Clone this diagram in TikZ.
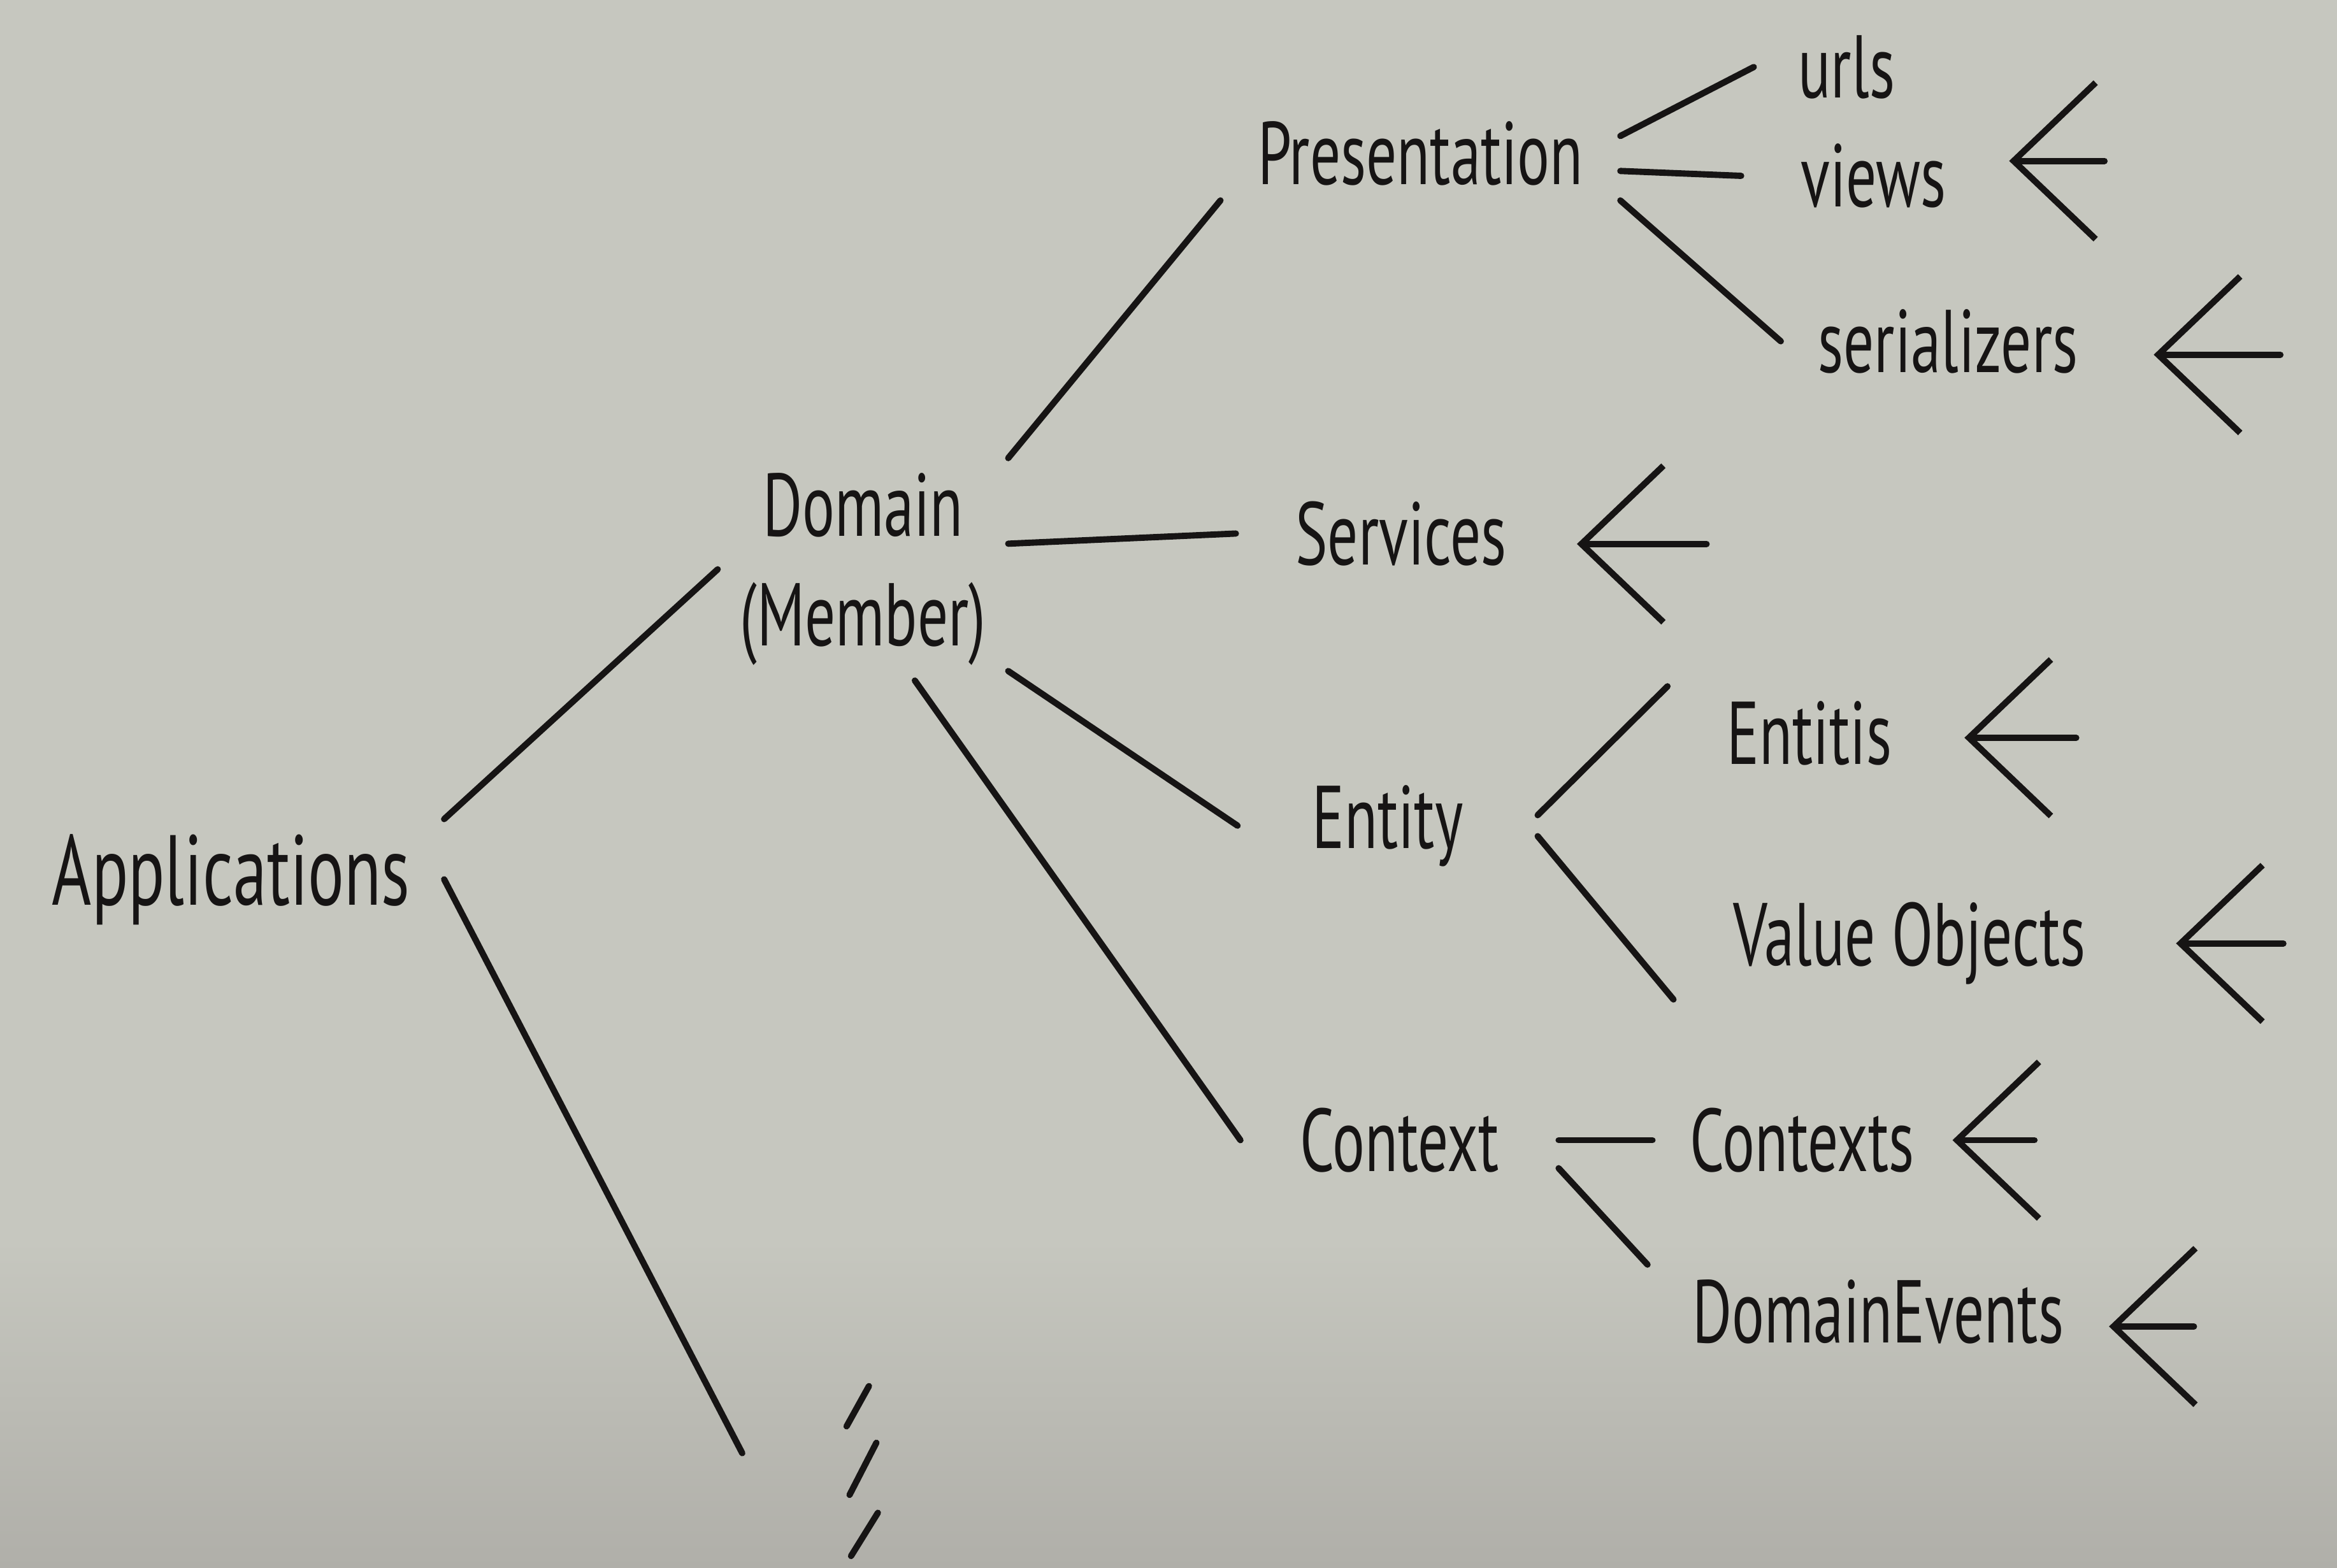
\documentclass[tikz,border=0pt]{standalone}
\usepackage{fontspec}
\setmainfont{PT Sans}
\newfontfamily\hand{PT Sans}[FakeStretch=0.68]
\usepackage{tikz}
\usetikzlibrary{arrows.meta,calc}
\definecolor{board}{RGB}{198,199,191}
\definecolor{boardlow}{RGB}{176,175,169}
\definecolor{marker}{RGB}{22,20,20}

\begin{document}
\begin{tikzpicture}[
  lbl/.style={inner sep=0pt,outer xsep=4mm,outer ysep=1mm,align=center,text=marker,
              font=\hand\fontsize{17}{21}\selectfont},
  link/.style={draw=marker,line width=1.2pt,line cap=round},
  back/.style={link,-{Straight Barb[length=5.5mm,width=10.5mm]}}]
  \fill[board] (0,0) rectangle (15.68,10.52);
  \shade[top color=board,bottom color=boardlow] (0,0) rectangle (15.68,2.2);
  \useasboundingbox (0,0) rectangle (15.68,10.52);
  \node[lbl,outer xsep=2.3mm,font=\hand\fontsize{19}{21}\selectfont] (app) at (1.55,4.62) {Applications};
  \node[lbl,outer xsep=1.5mm] (dom) at (5.79,6.70) {Domain\\(Member)};
  \node[lbl,outer xsep=2.5mm] (pres) at (9.53,9.49) {Presentation};
  \node[lbl] (serv) at (9.40,6.94) {Services};
  \node[lbl,outer xsep=5mm] (ent) at (9.31,4.98) {Entity};
  \node[lbl] (ctx) at (9.39,2.87) {Context};
  \node[lbl,outer xsep=3mm] (urls) at (12.39,10.07) {urls};
  \node[lbl] (views) at (12.57,9.34) {views};
  \node[lbl,outer xsep=2.5mm] (ser) at (13.07,8.23) {serializers};
  \node[lbl] (entis) at (12.14,5.60) {Entitis};
  \node[lbl] (vo) at (12.81,4.19) {Value Objects};
  \node[lbl,outer xsep=2.5mm] (ctxs) at (12.09,2.87) {Contexts};
  \node[lbl,outer xsep=3mm] (de) at (12.60,1.72) {DomainEvents};
  \coordinate (more) at (4.98,0.77);
  \foreach \a/\b in {app.north east/dom.west,app.east/more,dom.north east/pres.south west,
                     dom.10/serv.west,dom.-35/ent.west,dom.-65/ctx.west,pres.5/urls.west,
                     pres.-5/views.west,pres.south east/ser.west,ent.4/entis.north west,
                     ent.-4/vo.south west,ctx.east/ctxs.west,ctx.-10/de.north west}
    \draw[link] (\a) -- (\b);
  % arrows pointing back at the leaves
  \foreach \n/\x/\y/\l in {views/13.48/9.44/0.64,ser/14.45/8.14/0.85,serv/10.58/6.87/0.87,
                           entis/13.18/5.57/0.75,vo/14.60/4.19/0.72,ctxs/13.10/2.87/0.55,
                           de/14.15/1.62/0.57}{
    \coordinate (\n-t) at (\x,\y);
    \coordinate (\n-e) at (\x+\l,\y);
    \draw[back] (\n-e) -- (\n-t);
  }
  \foreach \xa/\ya/\xb/\yb in {5.83/1.22/5.68/0.95,5.88/0.84/5.70/0.49,5.89/0.37/5.71/0.08}
    \draw[link] (\xa,\ya) -- (\xb,\yb);
\end{tikzpicture}
\end{document}
